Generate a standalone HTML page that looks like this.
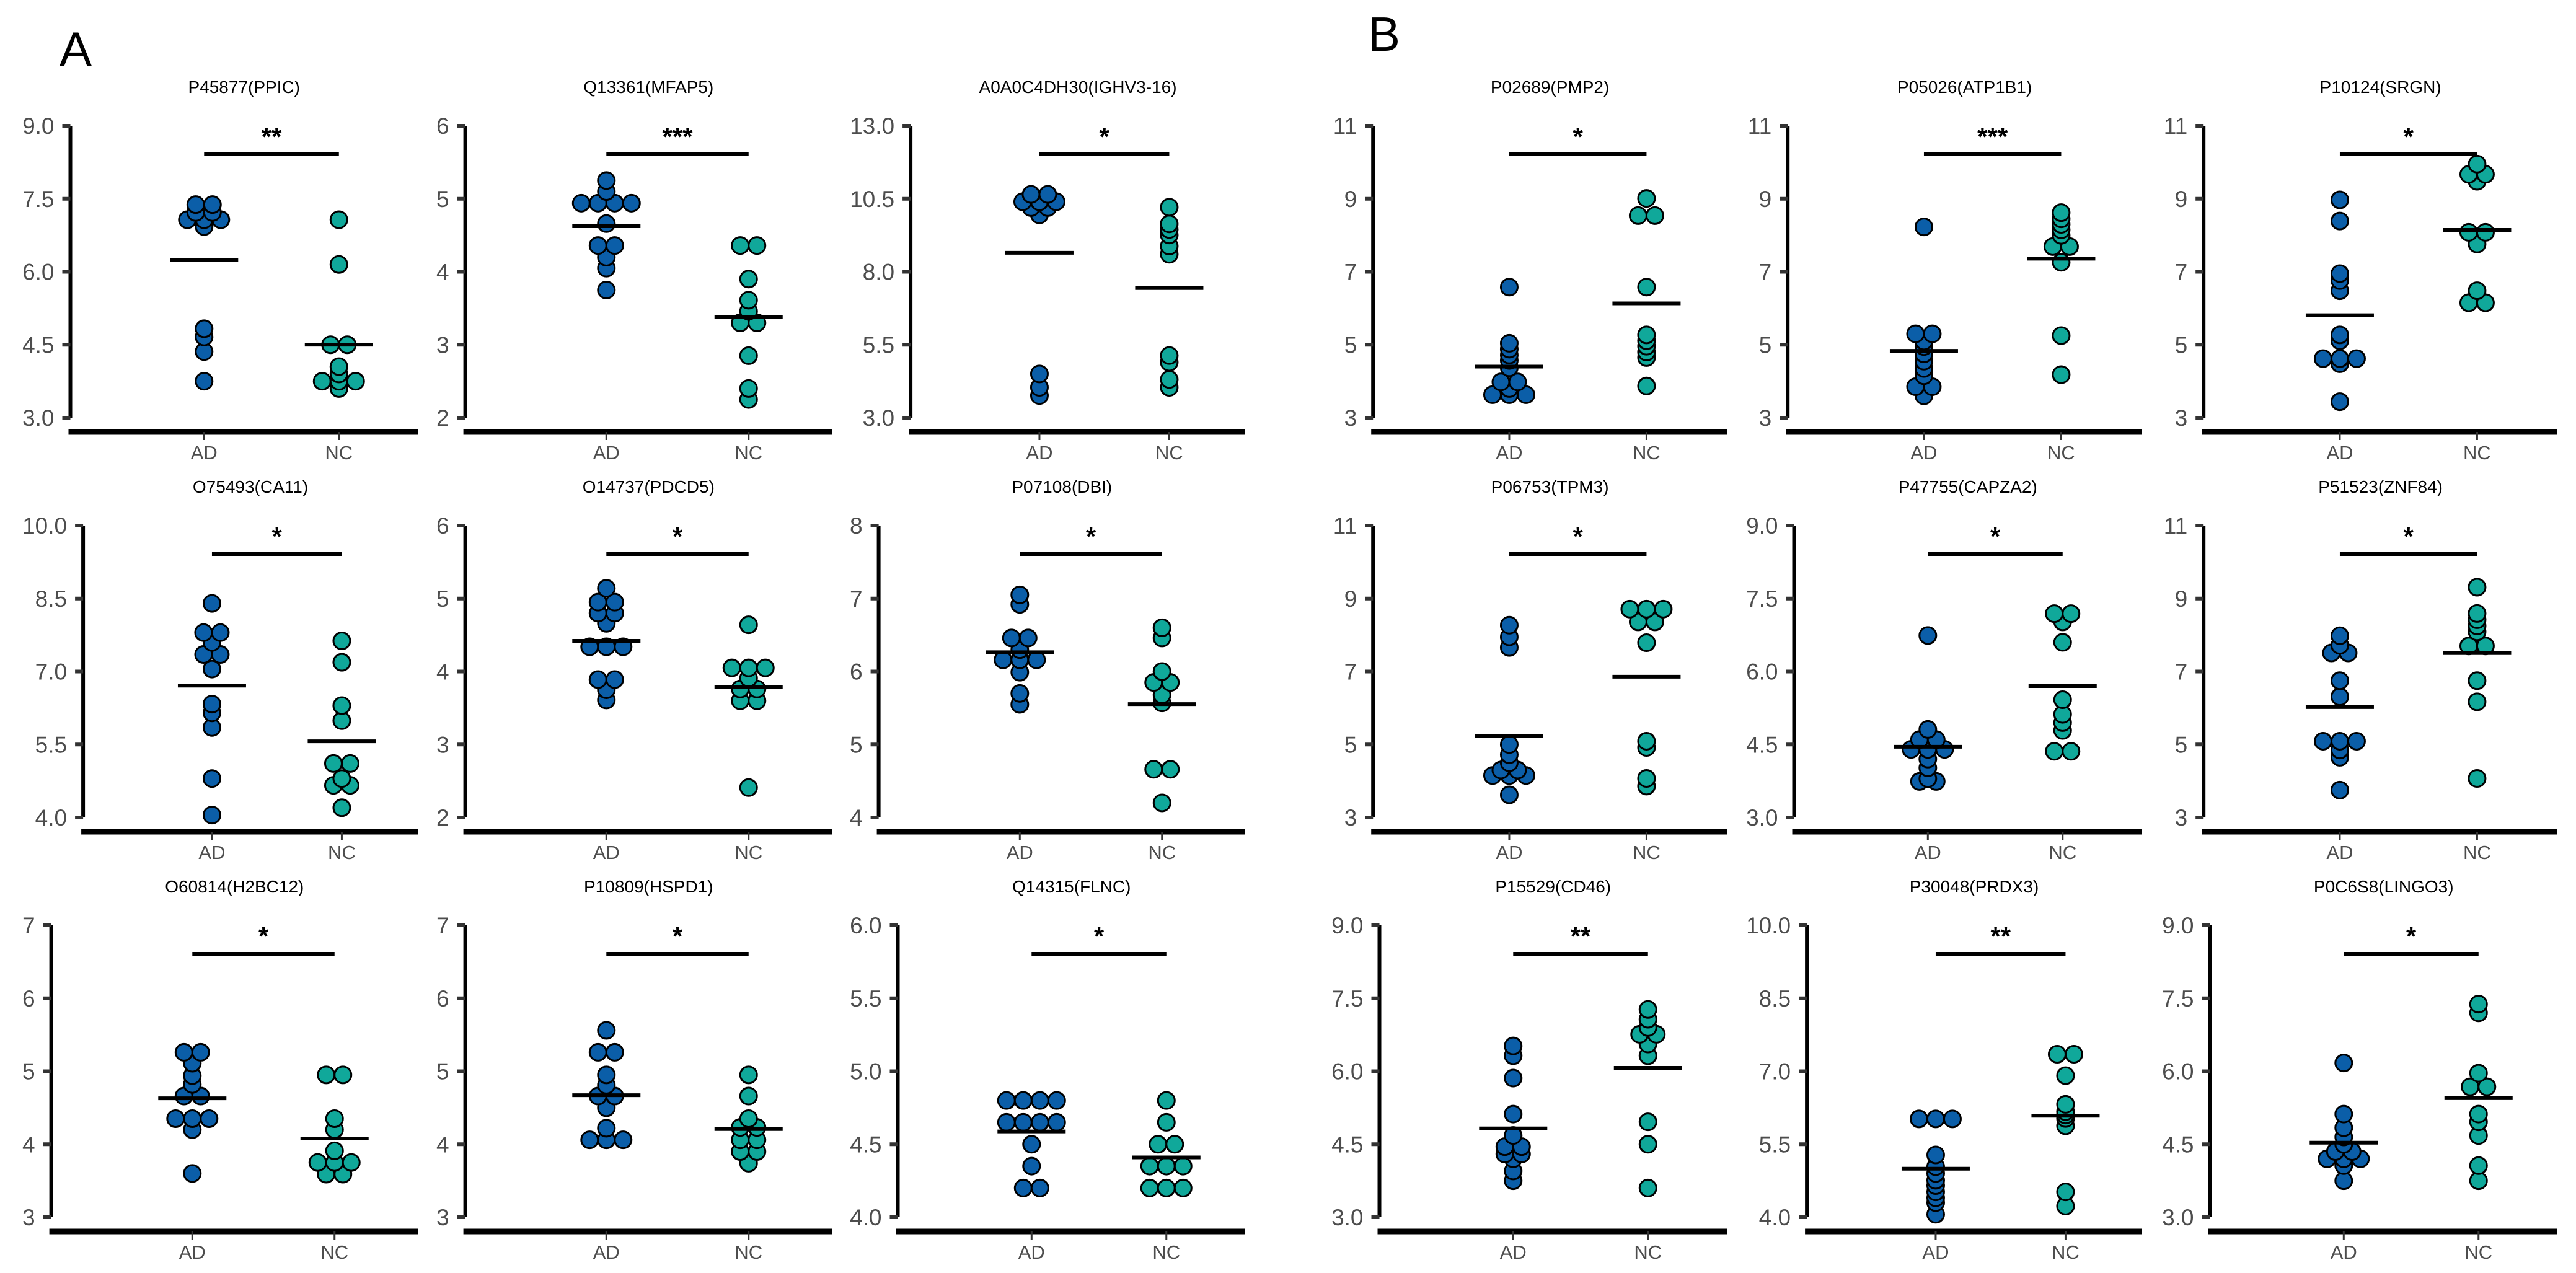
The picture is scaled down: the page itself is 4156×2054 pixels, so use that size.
<!DOCTYPE html>
<html><head><meta charset="utf-8"><style>
html,body{margin:0;padding:0;background:#fff}
svg{display:block}
</style></head><body>
<svg id="fig" xmlns="http://www.w3.org/2000/svg" width="4156" height="2054" viewBox="0 0 4156 2054">
<rect width="4156" height="2054" fill="#fff"/>
<text x="96" y="106" font-family="Liberation Sans, sans-serif" font-size="78">A</text>
<text x="2207" y="82" font-family="Liberation Sans, sans-serif" font-size="78">B</text>
</svg>
<script>
const titles = ["P45877(PPIC)","Q13361(MFAP5)","A0A0C4DH30(IGHV3-16)","P02689(PMP2)","P05026(ATP1B1)","P10124(SRGN)",
"O75493(CA11)","O14737(PDCD5)","P07108(DBI)","P06753(TPM3)","P47755(CAPZA2)","P51523(ZNF84)",
"O60814(H2BC12)","P10809(HSPD1)","Q14315(FLNC)","P15529(CD46)","P30048(PRDX3)","P0C6S8(LINGO3)"];
const sigLabels = ["**","***","*","*","***","*","*","*","*","*","*","*","*","*","*","**","**","*"];
const yMins = [3,2,3,3,3,3, 4,2,4,3,3,3, 3,3,4,3,4,3];
const yMaxs = [9,6,13,11,11,11, 10,6,8,11,9,11, 7,7,6,9,10,9];
const tickDecimals = [1,0,1,0,0,0, 1,0,0,0,1,0, 0,0,1,1,1,1];
const groups = ["AD","NC"];
const adValues = [
[7.38,7.38,7.22,7.22,7.07,7.07,7.07,6.93,4.83,4.66,4.36,3.75],
[5.25,5.1,4.94,4.94,4.94,4.94,4.66,4.36,4.36,4.2,4.05,3.75],
[10.65,10.65,10.4,10.4,10.4,10.2,10.2,9.95,4.5,4.04,3.76],
[6.58,5.04,4.88,4.72,4.57,4.37,3.98,3.98,3.8,3.63,3.63,3.63],
[8.23,5.3,5.3,5.1,4.95,4.75,4.55,4.35,4.15,3.85,3.85,3.6],
[8.97,8.39,6.95,6.76,6.48,5.27,5.11,4.62,4.62,4.62,4.48,3.44],
[8.4,7.8,7.8,7.6,7.35,7.35,7.05,6.33,6.15,5.85,4.8,4.05],
[5.14,4.95,4.95,4.8,4.8,4.66,4.34,4.34,4.34,3.89,3.89,3.75,3.61],
[7.05,6.92,6.46,6.46,6.3,6.16,6.16,6.16,5.99,5.7,5.55],
[8.27,7.95,7.66,5.0,4.72,4.5,4.3,4.3,4.15,4.15,4.15,3.62],
[6.74,4.81,4.6,4.6,4.4,4.4,4.4,4.2,4.02,3.8,3.74,3.74],
[7.98,7.72,7.51,7.51,6.75,6.31,5.09,5.09,5.09,4.85,4.65,3.75],
[5.26,5.26,5.11,4.94,4.82,4.66,4.66,4.35,4.35,4.35,4.2,3.6],
[5.56,5.26,5.26,4.95,4.81,4.66,4.66,4.5,4.22,4.06,4.06,4.06],
[4.8,4.8,4.8,4.8,4.65,4.65,4.65,4.65,4.5,4.35,4.2,4.2],
[6.52,6.32,5.86,5.12,4.68,4.45,4.45,4.3,4.3,4.2,3.95,3.75],
[6.02,6.02,6.02,5.28,5.04,4.9,4.76,4.65,4.52,4.4,4.3,4.06],
[6.17,5.12,4.84,4.65,4.5,4.35,4.35,4.2,4.2,4.2,4.06,3.75]];
const ncValues = [
[7.07,6.15,4.5,4.5,4.05,3.9,3.75,3.75,3.75,3.6],
[4.36,4.36,3.9,3.61,3.46,3.3,3.3,2.85,2.4,2.25],
[10.21,9.64,9.45,9.26,8.88,8.6,5.13,4.9,4.31,4.04],
[9.01,8.54,8.54,6.58,5.27,5.11,4.96,4.8,4.65,3.87],
[8.62,8.45,8.3,8.15,8.0,7.69,7.69,7.26,5.25,4.18],
[9.95,9.67,9.67,9.48,8.08,8.08,7.76,6.48,6.15,6.15],
[7.63,7.19,6.3,5.99,5.11,5.11,4.8,4.66,4.66,4.2],
[4.64,4.05,4.05,4.05,3.91,3.76,3.76,3.6,3.6,2.41],
[6.6,6.46,6.0,5.85,5.85,5.68,5.57,4.66,4.66,4.2],
[8.71,8.71,8.71,8.36,8.36,7.79,5.09,4.92,4.07,3.86],
[7.19,7.19,7.02,6.6,5.42,5.12,4.95,4.79,4.36,4.36],
[9.31,8.59,8.42,8.25,8.09,7.7,7.7,6.75,6.17,4.07],
[4.95,4.95,4.35,4.2,3.91,3.75,3.75,3.75,3.59,3.59],
[4.95,4.66,4.35,4.23,4.23,4.06,4.06,3.9,3.9,3.74],
[4.8,4.65,4.5,4.5,4.35,4.35,4.35,4.2,4.2,4.2],
[7.27,7.07,6.9,6.76,6.76,6.56,6.32,4.96,4.5,3.6],
[7.35,7.35,6.91,6.32,6.17,6.1,6.03,5.88,4.52,4.23],
[7.38,7.2,5.96,5.68,5.68,5.12,4.96,4.68,4.06,3.75]];

const NS = "http://www.w3.org/2000/svg";
const svg = document.getElementById("fig");
const FONT = "Liberation Sans, sans-serif";
const colors = ["#0b5ea8","#10a89a"];
const rowTops = [203,848,1493];
const colRights = [674,1342,2009,2786,3455,4126];
function mk(tag, attrs, parent){const e=document.createElementNS(NS,tag);for(const k in attrs)e.setAttribute(k,attrs[k]);(parent||svg).appendChild(e);return e;}
function labelWidth(s){let w=0;for(const c of s)w+=(c==='.')?10.3:20.6;return w;}

for(let p=0;p<18;p++){
  const row=Math.floor(p/6), col=p%6;
  const top=rowTops[row], bottom=top+471, xAxisY=bottom+23;
  const right=colRights[col];
  const yMin=yMins[p], yMax=yMaxs[p];
  const tickVals=[];for(let i=0;i<5;i++)tickVals.push(yMin+(yMax-yMin)*i/4);
  const tickLabels=tickVals.map(v=>v.toFixed(tickDecimals[p]));
  const maxW=Math.max(...tickLabels.map(labelWidth));
  const axisX=right-612+maxW;
  const W=right-axisX;
  const xPos=[axisX+0.385*W, axisX+0.773*W];
  const y=v=>bottom-(v-yMin)/(yMax-yMin)*(bottom-top);

  const g=mk("g",{});
  
  

  const t=mk("text",{x:(axisX+right)/2,y:top-53,"text-anchor":"middle","font-family":FONT,"font-size":28,fill:"#000"},g);
  t.textContent=titles[p];
  
  

  const ya=mk("line",{x1:axisX,y1:top,x2:axisX,y2:bottom,stroke:"#000","stroke-width":6},g);
  
  
  tickVals.forEach((v,i)=>{
    const tk=mk("line",{x1:axisX-13,y1:y(v),x2:axisX,y2:y(v),stroke:"#333","stroke-width":6},g);
    
    
    const tl=mk("text",{x:axisX-26,y:y(v)+13,"text-anchor":"end","font-family":FONT,"font-size":37,fill:"#4d4d4d"},g);
    tl.textContent=tickLabels[i];
    
    
  });
  const xa=mk("line",{x1:axisX-3,y1:xAxisY,x2:right,y2:xAxisY,stroke:"#000","stroke-width":9},g);
  
  
  groups.forEach((gr,i)=>{
    const tk=mk("line",{x1:xPos[i],y1:xAxisY,x2:xPos[i],y2:xAxisY+13,stroke:"#333","stroke-width":3},g);
    
    
    const tl=mk("text",{x:xPos[i],y:xAxisY+44,"text-anchor":"middle","font-family":FONT,"font-size":31,fill:"#4d4d4d"},g);
    tl.textContent=gr;
    
    
  });

  // significance
  const sb=mk("line",{x1:xPos[0],y1:top+46,x2:xPos[1],y2:top+46,stroke:"#000","stroke-width":6},g);
  
  
  const st=mk("text",{x:(xPos[0]+xPos[1])/2,y:top+32,"text-anchor":"middle","font-family":FONT,"font-size":42,"font-weight":"bold",fill:"#000"},g);
  st.textContent=sigLabels[p];
  
  

  // dots
  [adValues[p],ncValues[p]].forEach((vals,gi)=>{
    const counts={};vals.forEach(v=>{counts[v]=(counts[v]||0)+1;});
    const keys=Object.keys(counts).map(Number).sort((a,b)=>a-b);
    keys.forEach(v=>{
      const n=counts[v];
      for(let k=0;k<n;k++){
        const cx=xPos[gi]+(k-(n-1)/2)*27;
        const c=mk("circle",{cx:cx,cy:y(v),r:13.5,fill:colors[gi],stroke:"#000","stroke-width":3},g);
        
        
      }
    });
    const mean=vals.reduce((a,b)=>a+b,0)/vals.length;
    const ml=mk("line",{x1:xPos[gi]-55,y1:y(mean),x2:xPos[gi]+55,y2:y(mean),stroke:"#000","stroke-width":6},g);
    
    
  });
}
</script>
</body></html>
